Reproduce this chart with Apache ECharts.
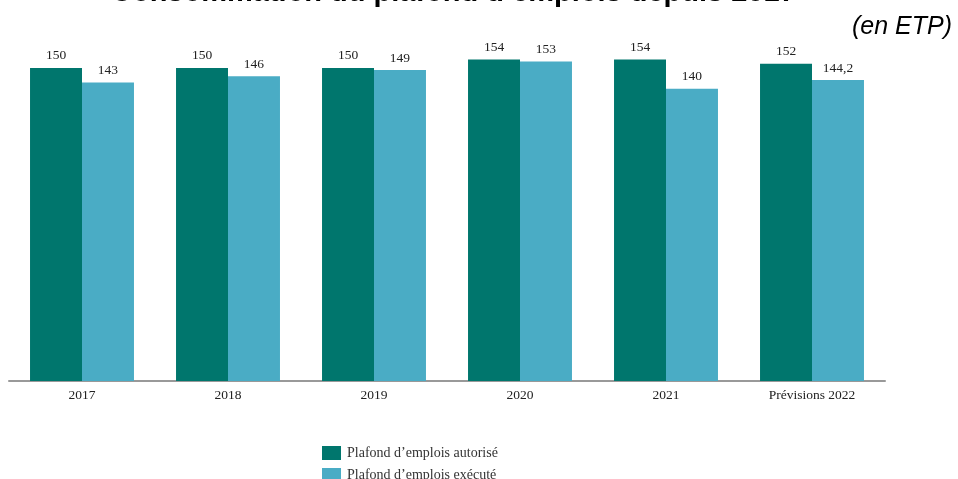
<!DOCTYPE html>
<html>
<head>
<meta charset="utf-8">
<script src="https://cdn.jsdelivr.net/npm/echarts@6/dist/echarts.min.js"></script>
<style>html,body{margin:0;padding:0;background:#fff}#c{width:958px;height:479px}</style>
</head>
<body>
<div id="c"></div>
<script>
const categories = ['2017', '2018', '2019', '2020', '2021', 'Prévisions 2022'];
const autorise = [150, 150, 150, 154, 154, 152];
const execute = [143, 146, 149, 153, 140, 144.2];
const seriesNames = ['Plafond d\u2019emplois autorisé', 'Plafond d\u2019emplois exécuté'];
const titleText = 'Consommation du plafond d\u2019emplois depuis 2017';
const unitText = '(en ETP)';

const serif = 'Liberation Serif';
const chart = echarts.init(document.getElementById('c'));
const labelFmt = p => String(p.value).replace('.', ',');
const legendBase = {
  orient: 'vertical', left: 322, itemWidth: 19, itemHeight: 14,
  icon: 'rect', padding: 0,
  textStyle: { fontFamily: serif, fontSize: 14, color: '#333', padding: [0, 0, 0, 1] }
};
chart.setOption({
  animation: false,
  title: [
    { text: titleText, left: 106, top: -27,
      textStyle: { fontFamily: 'Liberation Sans', fontWeight: 'bold', fontSize: 29, color: '#000' } },
    { text: unitText, right: 1, top: 10,
      textStyle: { fontFamily: 'Liberation Sans', fontStyle: 'italic', fontWeight: 'normal', fontSize: 25, color: '#000' } }
  ],
  grid: { left: 9, right: 73, top: 47, height: 334, containLabel: false },
  legend: [
    Object.assign({}, legendBase, { top: 446, data: [seriesNames[0]] }),
    Object.assign({}, legendBase, { top: 468, data: [seriesNames[1]] })
  ],
  xAxis: {
    type: 'category', data: categories,
    axisLine: { lineStyle: { color: '#999', width: 2 } },
    axisTick: { show: false },
    axisLabel: { fontFamily: serif, fontSize: 13.5, color: '#222', margin: 7 }
  },
  yAxis: { type: 'value', min: 0, max: 160, show: false, splitLine: { show: false } },
  series: [
    { name: seriesNames[0], type: 'bar', data: autorise, barGap: '0%', barCategoryGap: '28.8%',
      itemStyle: { color: '#00766D' },
      label: { show: true, position: 'top', distance: 5, formatter: labelFmt,
        fontFamily: serif, fontSize: 13.5, color: '#222' } },
    { name: seriesNames[1], type: 'bar', data: execute, barGap: '0%', barCategoryGap: '28.8%',
      itemStyle: { color: '#4AACC5' },
      label: { show: true, position: 'top', distance: 5, formatter: labelFmt,
        fontFamily: serif, fontSize: 13.5, color: '#222' } }
  ]
});
</script>
</body>
</html>
